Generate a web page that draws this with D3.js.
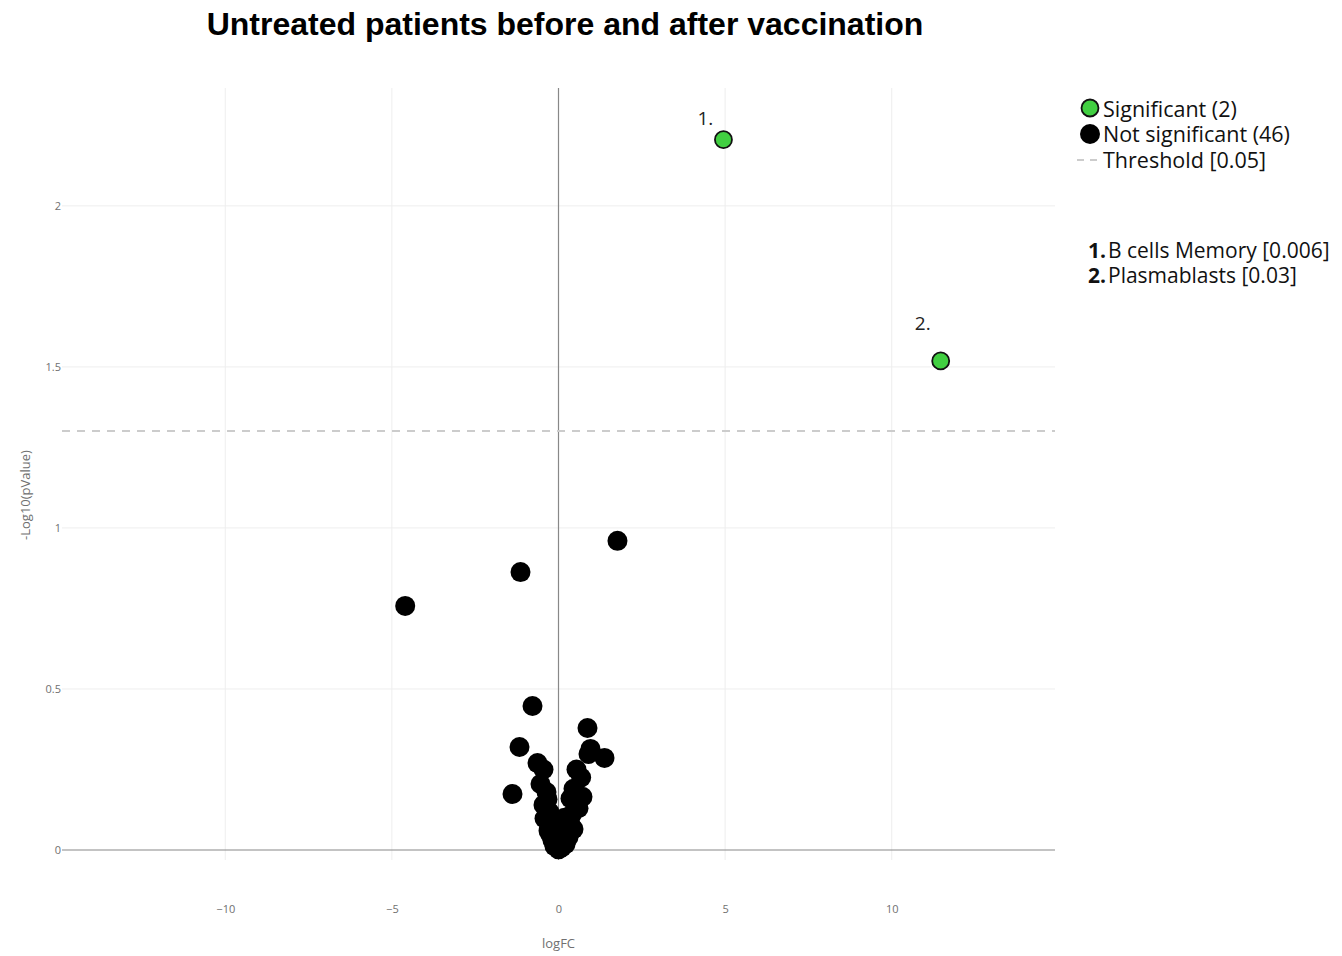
<!DOCTYPE html>
<html>
<head>
<meta charset="utf-8">
<script src="https://cdn.jsdelivr.net/npm/d3@7"></script>
<style>
  html, body { margin: 0; padding: 0; background: #fff; }
  svg { display: block; }
</style>
</head>
<body>
<svg id="chart" width="1342" height="956"></svg>
<script>
// Significant cell populations
const sigNames = ["B cells Memory", "Plasmablasts"];
const sigPValues = [0.00623, 0.0303];
const sigLogFC = [4.95, 11.47];

// Non-significant populations: logFC and -log10(p)
const nsLogFC = [1.77, -1.14, -4.60, -0.78, 0.87, -1.17, 0.96, 0.90, 1.38, -0.63,
  -0.45, 0.54, 0.68, -0.54, -1.38, 0.51, 0.72, 0.36, 0.57, -0.33,
  -0.45, -0.27, -0.42, 0.36, 0.45, -0.15, 0.15, -0.09, 0.21, -0.12,
  0.00, 0.27, -0.21, 0.06, -0.30, 0.10, -0.05, 0.30, -0.18, 0.18,
  -0.36, 0.45, 0.60, -0.25, 0.05, 0.40];
const nsNegLogP = [0.960, 0.863, 0.758, 0.447, 0.379, 0.320, 0.314, 0.298, 0.286, 0.270,
  0.250, 0.250, 0.225, 0.205, 0.174, 0.178, 0.165, 0.160, 0.146, 0.158,
  0.140, 0.118, 0.098, 0.080, 0.065, 0.072, 0.055, 0.045, 0.018, 0.012,
  0.002, 0.075, 0.090, 0.030, 0.060, 0.008, 0.020, 0.040, 0.030, 0.100,
  0.180, 0.190, 0.130, 0.050, 0.065, 0.110];

const threshold = 0.05;
const xTicks = [-10, -5, 0, 5, 10];
const yTicks = [0, 0.5, 1, 1.5, 2];

const svg = d3.select("#chart");
const plot = { left: 62, right: 1055, top: 88, bottom: 860 };

const x = d3.scaleLinear().domain([-14.9, 14.9]).range([plot.left, plot.right]);
const y = d3.scaleLinear().domain([-0.031, 2.366]).range([plot.bottom, plot.top]);

const tickFont = "'Open Sans', 'Noto Sans', sans-serif";
const axisGray = "#707070";

// Grid lines
svg.append("g").selectAll("line").data(xTicks.filter(d => d !== 0)).join("line")
  .attr("x1", d => x(d)).attr("x2", d => x(d))
  .attr("y1", plot.top).attr("y2", plot.bottom)
  .attr("stroke", "#eeeeee").attr("stroke-width", 1);
svg.append("g").selectAll("line").data(yTicks.filter(d => d !== 0)).join("line")
  .attr("x1", plot.left).attr("x2", plot.right)
  .attr("y1", d => y(d)).attr("y2", d => y(d))
  .attr("stroke", "#eeeeee").attr("stroke-width", 1);

// Zero lines
svg.append("line")
  .attr("x1", plot.left).attr("x2", plot.right)
  .attr("y1", y(0)).attr("y2", y(0))
  .attr("stroke", "#888").attr("stroke-width", 1.2);
svg.append("line")
  .attr("x1", x(0)).attr("x2", x(0))
  .attr("y1", plot.top).attr("y2", plot.bottom)
  .attr("stroke", "#888").attr("stroke-width", 1.2);

// Axes (labels only)
const xAxis = d3.axisBottom(x).tickValues(xTicks).tickSize(0).tickPadding(0)
  .tickFormat(d => d3.format("")(d).replace("-", "\u2212"));
const gx = svg.append("g").attr("transform", `translate(0, 905)`).call(xAxis);
gx.select(".domain").remove();
gx.selectAll("text").attr("font-family", tickFont).attr("font-size", 11).attr("fill", axisGray);

const yAxis = d3.axisLeft(y).tickValues(yTicks).tickSize(0).tickPadding(0)
  .tickFormat(d3.format(""));
const gy = svg.append("g").attr("transform", `translate(61, 0)`).call(yAxis);
gy.select(".domain").remove();
gy.selectAll("text").attr("font-family", tickFont).attr("font-size", 11).attr("fill", axisGray);

// Axis titles
svg.append("text").attr("x", x(0)).attr("y", 948).attr("text-anchor", "middle")
  .attr("font-family", tickFont).attr("font-size", 13).attr("fill", axisGray).text("logFC");
svg.append("text").attr("transform", `translate(30, ${(plot.top + plot.bottom) / 2 + 21}) rotate(-90)`)
  .attr("text-anchor", "middle")
  .attr("font-family", tickFont).attr("font-size", 13).attr("fill", axisGray).text("-Log10(pValue)");

// Threshold line
svg.append("line")
  .attr("x1", plot.left).attr("x2", plot.right)
  .attr("y1", y(-Math.log10(threshold))).attr("y2", y(-Math.log10(threshold)))
  .attr("stroke", "#cccccc").attr("stroke-width", 2).attr("stroke-dasharray", "8,7");

// Non-significant points
const nsData = nsLogFC.map((v, i) => ({ fc: v, p: nsNegLogP[i] }));
svg.append("g").selectAll("circle").data(nsData).join("circle")
  .attr("cx", d => x(d.fc)).attr("cy", d => y(d.p)).attr("r", 10)
  .attr("fill", "#000");

// Significant points
const sigData = sigNames.map((n, i) => ({ name: n, fc: sigLogFC[i], p: sigPValues[i] }));
svg.append("g").selectAll("circle").data(sigData).join("circle")
  .attr("cx", d => x(d.fc)).attr("cy", d => y(-Math.log10(d.p))).attr("r", 8.5)
  .attr("fill", "#41cf41").attr("stroke", "#111").attr("stroke-width", 1.8);

// Numbered labels above the significant points
const labelDy = [-15, -31];
svg.append("g").selectAll("text").data(sigData).join("text")
  .attr("x", d => x(d.fc) - 18).attr("y", (d, i) => y(-Math.log10(d.p)) + labelDy[i])
  .attr("text-anchor", "middle")
  .attr("font-family", tickFont).attr("font-size", 19).attr("fill", "#222")
  .text((d, i) => `${i + 1}.`);

// Title
svg.append("text").attr("x", 565).attr("y", 35).attr("text-anchor", "middle")
  .attr("font-family", "'Liberation Sans', Arial, sans-serif").attr("font-weight", "bold")
  .attr("font-size", 32).attr("fill", "#000")
  .text("Untreated patients before and after vaccination");

// Legend
const legend = svg.append("g").attr("font-family", tickFont).attr("font-size", 21.5).attr("fill", "#111");
legend.append("circle").attr("cx", 1090).attr("cy", 108).attr("r", 8.5)
  .attr("fill", "#41cf41").attr("stroke", "#111").attr("stroke-width", 1.8);
legend.append("text").attr("x", 1103).attr("y", 117).text(`Significant (${sigData.length})`);
legend.append("circle").attr("cx", 1090).attr("cy", 134).attr("r", 10).attr("fill", "#000");
legend.append("text").attr("x", 1103).attr("y", 142).text(`Not significant (${nsData.length})`);
legend.append("line").attr("x1", 1077).attr("x2", 1103).attr("y1", 160).attr("y2", 160)
  .attr("stroke", "#cccccc").attr("stroke-width", 2).attr("stroke-dasharray", "7,6");
legend.append("text").attr("x", 1103).attr("y", 168).text(`Threshold [${threshold}]`);

// Significant list
const list = svg.append("g").attr("font-family", tickFont).attr("font-size", 21).attr("fill", "#111");
sigData.forEach((d, i) => {
  const yy = 258 + i * 24.5;
  list.append("text").attr("x", 1106).attr("y", yy).attr("text-anchor", "end")
    .attr("font-weight", "bold").text(`${i + 1}.`);
  const pLabel = i === 0 ? d3.format(".3f")(d.p) : d3.format(".2f")(d.p);
  list.append("text").attr("x", 1108).attr("y", yy).text(`${d.name} [${pLabel}]`);
});
</script>
</body>
</html>
